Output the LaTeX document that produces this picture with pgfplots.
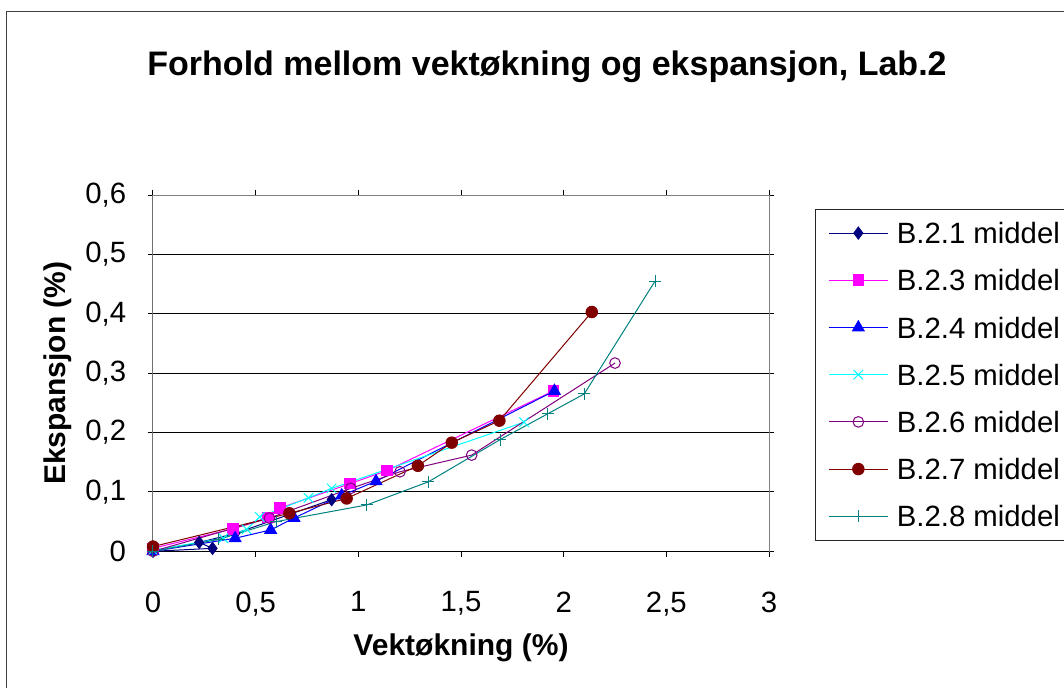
\documentclass[border=0pt]{standalone}
\usepackage{pgfplots}
\pgfplotsset{compat=1.18}
\usepackage{fontspec}
\setmainfont{Liberation Sans}

\definecolor{cA}{RGB}{0,0,128}
\definecolor{cB}{RGB}{255,0,255}
\definecolor{cC}{RGB}{0,0,255}
\definecolor{cD}{RGB}{0,255,255}
\definecolor{cE}{RGB}{128,0,128}
\definecolor{cF}{RGB}{128,0,0}
\definecolor{cG}{RGB}{0,128,128}

% pixel-style coordinates: origin of the plot area sits at (153, 551.3)
\newcommand\px[2]{({((#1)-153)*0.75pt},{(551.3-(#2))*0.75pt})}

\begin{document}
\begin{tikzpicture}
\begin{axis}[
  at={(0,0)}, anchor=south west,
  scale only axis, width=462pt, height=267.2pt,
  xmin=0, xmax=3, ymin=0, ymax=0.6,
  xtick={0,0.5,1,1.5,2,2.5,3},
  ytick={0,0.1,0.2,0.3,0.4,0.5,0.6},
  minor tick num=0,
  tick align=outside,
  major tick length=4pt,
  tick style={black, line width=0.75pt},
  axis line style={draw=black!50, line width=0.75pt},
  ymajorgrids,
  grid style={black, line width=0.75pt},
  /pgf/number format/.cd, use comma, assume math mode=true, /pgfplots/.cd,
  tick label style={font=\fontsize{22}{26}\selectfont},
  yticklabel style={anchor=east, inner sep=0pt, xshift=-16pt},
  xticklabel style={anchor=north, inner sep=0pt, yshift=-26pt},
  xlabel={Vektøkning (\%)},
  ylabel={Ekspansjon (\%)},
  label style={font=\bfseries\fontsize{22.5}{27}\selectfont},
  xlabel style={at={(axis description cs:0.5,-0.2714)}, anchor=center},
  ylabel style={at={(axis description cs:-0.1542,0.5)}, anchor=center},
  every axis plot/.append style={line width=0.75pt},
  legend cell align=left,
  legend image code/.code={%
    \draw[mark repeat=2,mark phase=2,#1] plot coordinates {(0pt,0pt)(22pt,0pt)(44pt,0pt)};
    \path (50.5pt,0pt);},
  legend style={at={(1.0747,0.962)}, anchor=north west,
    draw=black!85, line width=0.75pt, fill=white,
    font=\fontsize{22}{26}\selectfont,
    inner xsep=9.75pt, inner ysep=10pt, row sep=19.4pt,
    nodes={text height=16pt, text depth=0pt, inner sep=0pt}},
]
% the left and bottom axis lines in black
\draw[black, line width=0.75pt] (rel axis cs:0,0) -- (rel axis cs:0,1);
\draw[black, line width=0.75pt] (rel axis cs:0,0) -- (rel axis cs:1,0);

\addplot[cA, mark=diamond*, mark size=4.5pt, mark options={fill=cA}]
  coordinates {(0,0) (0.29,0.005) (0.225,0.015) (0.40,0.03) (0.87,0.087)};
\addlegendentry{B.2.1 middel}

\addplot[cB, mark=square*, mark size=4pt, mark options={fill=cB}]
  coordinates {(0,0.005) (0.39,0.038) (0.56,0.057) (0.62,0.073) (0.96,0.114) (1.14,0.136) (1.95,0.27)};
\addlegendentry{B.2.3 middel}

\addplot[cC, mark=triangle*, mark size=5pt, mark options={fill=cC}]
  coordinates {(0,0) (0.40,0.022) (0.573,0.036) (0.687,0.056) (0.919,0.094) (1.086,0.118) (1.955,0.27)};
\addlegendentry{B.2.4 middel}

\addplot[cD, mark=x, mark size=5pt]
  coordinates {(0,0.002) (0.343,0.022) (0.456,0.037) (0.52,0.058) (0.757,0.09) (0.87,0.106) (1.807,0.2175)};
\addlegendentry{B.2.5 middel}

\addplot[cE, mark=o, mark size=4pt]
  coordinates {(0,0) (0.567,0.056) (0.963,0.106) (1.203,0.134) (1.552,0.162) (2.25,0.317)};
\addlegendentry{B.2.6 middel}

\addplot[cF, mark=*, mark size=4.3pt, mark options={fill=cF}]
  coordinates {(0,0.008) (0.664,0.064) (0.943,0.089) (1.29,0.144) (1.455,0.183) (1.687,0.22) (2.137,0.403)};
\addlegendentry{B.2.7 middel}

\addplot[cG, mark=+, mark size=4.5pt]
  coordinates {(0,0) (0.32,0.02) (0.6,0.05) (1.04,0.078) (1.341,0.117) (1.69,0.188) (1.922,0.2315) (2.10,0.265) (2.445,0.455)};
\addlegendentry{B.2.8 middel}
\end{axis}

\node[font=\bfseries\fontsize{25.5}{30}\selectfont, anchor=center] at \px{547}{67}
  {Forhold mellom vektøkning og ekspansjon, Lab.2};
\draw[black!75, line width=0.75pt] \px{7}{12} rectangle \px{1110}{730};

\pgfresetboundingbox
\useasboundingbox \px{0}{0} rectangle \px{1064}{687};
\end{tikzpicture}
\end{document}
